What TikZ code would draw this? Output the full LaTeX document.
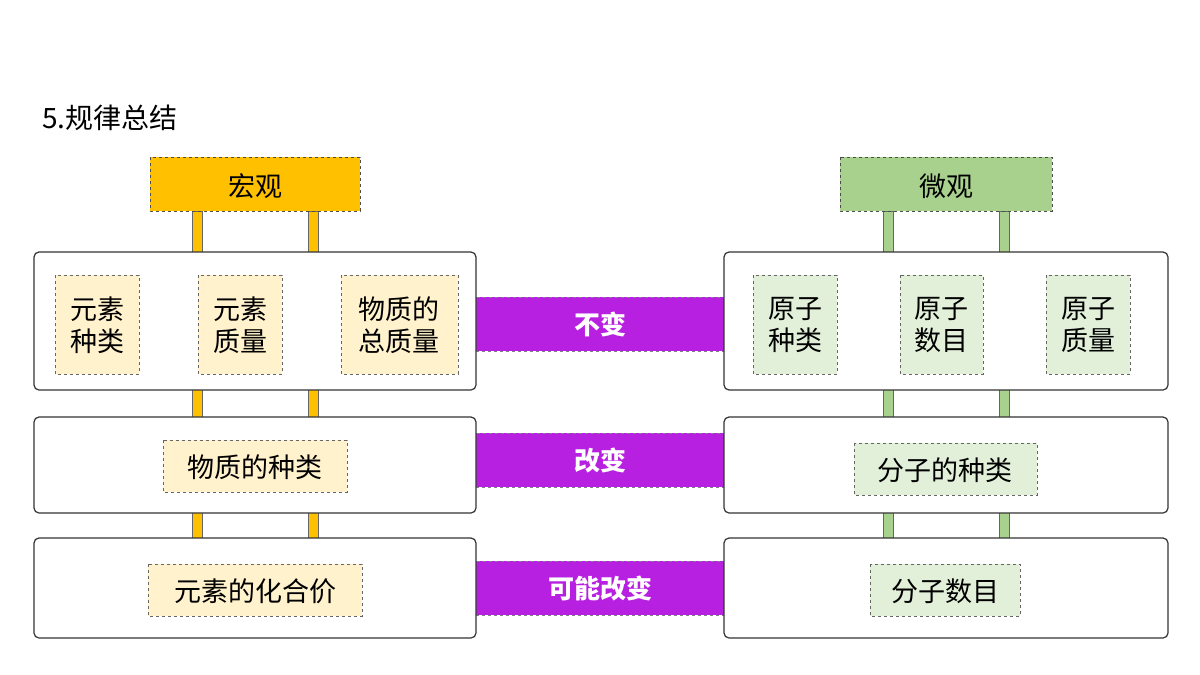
\documentclass[tikz,border=0pt]{standalone}
\usepackage{fontspec}
\setmainfont{Noto Sans CJK SC}
\begin{document}
\begin{tikzpicture}[x=1pt,y=-1pt,
 big/.style={draw=black!80,line width=1.2pt,rounded corners=5pt,fill=white},
 head/.style={draw=black!70,dashed,line width=0.8pt},
 small/.style={draw=black!60,dashed,line width=0.6pt},
 band/.style={fill=violet!20!magenta!80!blue,draw=black!50,dashed},
 bar/.style={draw=black!60,line width=0.6pt},
 txt/.style={font=\fontsize{27}{32}\selectfont,align=center,inner sep=0pt},
 btxt/.style={font=\fontsize{26}{30}\selectfont\bfseries,text=white,inner sep=0pt}]
\useasboundingbox (0,0) rectangle (1200,675);
\fill[white] (0,0) rectangle (1200,675);
\colorlet{org}{orange!70!yellow}
\definecolor{org}{HTML}{FFC000}
\definecolor{grn}{HTML}{A9D18E}
\definecolor{lorg}{HTML}{FFF2CC}
\definecolor{lgrn}{HTML}{E2F0D9}
\definecolor{pur}{HTML}{B720E0}
\node[anchor=west,font=\fontsize{28}{32}\selectfont,inner sep=0pt] (title) at (42,118) {5.规律总结};
% bars
\foreach \x in {197,313}{\filldraw[bar,fill=org] (\x-5,211) rectangle (\x+5,540);}
\foreach \x in {888,1004}{\filldraw[bar,fill=grn] (\x-5,211) rectangle (\x+5,540);}
% heads
\filldraw[head,fill=org] (150,157) rectangle (360,211);
\node[txt] (hong) at (255,186) {宏观};
\filldraw[head,fill=grn] (840,157) rectangle (1052,211);
\node[txt] (wei) at (946,186) {微观};
% bands
\foreach \y/\t in {324/不变,460/改变,588/可能改变}{
 \filldraw[band,fill=pur] (470,\y-27) rectangle (730,\y+27);
 \node[btxt] at (600,\y) {\t};}
% big boxes
\draw[big] (34,252) rectangle (476,390);
\draw[big] (34,417) rectangle (476,513);
\draw[big] (34,538) rectangle (476,638);
\draw[big] (724,252) rectangle (1168,390);
\draw[big] (724,417) rectangle (1168,513);
\draw[big] (724,538) rectangle (1168,638);
% small left
\filldraw[small,fill=lorg] (55,275) rectangle (139,374); \node[txt] (a1) at (97,325) {元素\\种类};
\filldraw[small,fill=lorg] (198,275) rectangle (282,374); \node[txt] (a2) at (240,325) {元素\\质量};
\filldraw[small,fill=lorg] (341,275) rectangle (458,374); \node[txt] (a3) at (399,325) {物质的\\总质量};
\filldraw[small,fill=lorg] (163,440) rectangle (347,492); \node[txt] (a4) at (255,467) {物质的种类};
\filldraw[small,fill=lorg] (148,564) rectangle (362,616); \node[txt] (a5) at (255,591) {元素的化合价};
% small right
\filldraw[small,fill=lgrn] (753,275) rectangle (837,374); \node[txt] (b1) at (795,325) {原子\\种类};
\filldraw[small,fill=lgrn] (900,275) rectangle (983,374); \node[txt] (b2) at (941,325) {原子\\数目};
\filldraw[small,fill=lgrn] (1046,275) rectangle (1130,374); \node[txt] (b3) at (1088,325) {原子\\质量};
\filldraw[small,fill=lgrn] (854,443) rectangle (1037,495); \node[txt] (b4) at (945,470) {分子的种类};
\filldraw[small,fill=lgrn] (870,564) rectangle (1020,616); \node[txt] (b5) at (945,591) {分子数目};
\end{tikzpicture}
\end{document}
